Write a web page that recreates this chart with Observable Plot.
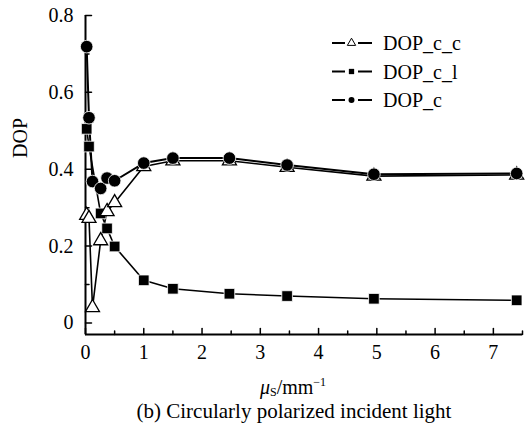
<!DOCTYPE html>
<html><head><meta charset="utf-8">
<script src="https://cdn.jsdelivr.net/npm/d3@7"></script>
<script src="https://cdn.jsdelivr.net/npm/@observablehq/plot@0.6"></script>
<style>
body{margin:0;background:#fff;font-family:"Liberation Serif","Times New Roman",serif;color:#000;}
#wrap{position:relative;width:525px;height:429px;overflow:hidden;}
#chart{position:absolute;left:0;top:0;}
#chart svg, #chart svg text{font-family:"Liberation Serif","Times New Roman",serif !important;}
#legend{position:absolute;left:0;top:0;}
.xlabel{position:absolute;left:193px;width:200px;top:370px;text-align:center;font-size:20px;line-height:24px;}
.xlabel sub{font-size:12px;vertical-align:-2px;}
.xlabel sup{font-size:12px;vertical-align:8px;}
.caption{position:absolute;left:44px;width:500px;top:399px;text-align:center;font-size:21px;line-height:25px;}
</style></head><body>
<div id="wrap">
  <div id="chart"></div>
  <svg id="legend" width="525" height="130"></svg>
  <div class="xlabel"><i>μ</i><sub>S</sub>/mm<sup>−1</sup></div>
  <div class="caption">(b) Circularly polarized incident light</div>
</div>
<script>
// ---- data ----
const xValues = [0.02, 0.06, 0.12, 0.26, 0.37, 0.5, 1.0, 1.5, 2.47, 3.46, 4.95, 7.4];
const dopCC   = [0.28, 0.272, 0.04, 0.214, 0.29, 0.313, 0.407, 0.422, 0.422, 0.405, 0.382, 0.385];
const dopCL   = [0.505, 0.459, null, 0.285, 0.246, 0.199, 0.111, 0.089, 0.076, 0.070, 0.063, 0.059];
const dopC    = [0.719, 0.534, 0.368, 0.350, 0.377, 0.370, 0.416, 0.429, 0.429, 0.411, 0.387, 0.389];
const seriesNames = ["DOP_c_c", "DOP_c_l", "DOP_c"];
const xTicks = [0, 1, 2, 3, 4, 5, 6, 7];
const xMinorTicks = [0.5, 1.5, 2.5, 3.5, 4.5, 5.5, 6.5, 7.5];
const yTicks = [0, 0.2, 0.4, 0.6, 0.8];
const yTickLabels = ["0", "0.2", "0.4", "0.6", "0.8"];
const yMinorTicks = [0.1, 0.3, 0.5, 0.7];
const xDomain = [0, 7.5];
const yDomain = [-0.03, 0.8];

// ---- build rows ----
function rows(vals, name) {
  return xValues.map((x, i) => ({x, y: vals[i], series: name})).filter(d => d.y != null);
}
const rCC = rows(dopCC, seriesNames[0]);
const rCL = rows(dopCL, seriesNames[1]);
const rC  = rows(dopC,  seriesNames[2]);

const tickShape = {draw(ctx, l) { ctx.moveTo(0, 0); ctx.lineTo(0, -l); }};
const yMin = yDomain[0];

const chart = Plot.plot({
  width: 525,
  height: 365,
  marginLeft: 85,
  marginRight: 3,
  marginTop: 15,
  marginBottom: 31,
  style: {fontFamily: "'Liberation Serif', 'Times New Roman', serif", fontSize: "20px", color: "#000", background: "#fff"},
  x: {domain: xDomain},
  y: {domain: yDomain},
  marks: [
    Plot.axisX({ticks: xTicks, tickSize: 0, tickPadding: 10, label: null, tickFormat: d => String(d)}),
    Plot.axisY({ticks: yTicks, tickSize: 0, tickPadding: 12, label: null, tickFormat: (d, i) => yTickLabels[yTicks.indexOf(d)]}),
    Plot.text(["DOP"], {frameAnchor: "left", text: d => d, rotate: -90, dx: -65, dy: -17, fontSize: 20}),
    Plot.ruleX([0], {stroke: "black", strokeWidth: 2}),
    Plot.ruleY([yMin], {stroke: "black", strokeWidth: 2}),
    Plot.vector(xTicks, {x: d => d, y: yMin, length: 6, rotate: 0, anchor: "start", shape: tickShape, stroke: "black", strokeWidth: 1.5}),
    Plot.vector(xMinorTicks, {x: d => d, y: yMin, length: 3.5, rotate: 0, anchor: "start", shape: tickShape, stroke: "black", strokeWidth: 1.5}),
    Plot.vector(yTicks, {x: 0, y: d => d, length: 6, rotate: 90, anchor: "start", shape: tickShape, stroke: "black", strokeWidth: 1.5}),
    Plot.vector(yMinorTicks, {x: 0, y: d => d, length: 3.5, rotate: 90, anchor: "start", shape: tickShape, stroke: "black", strokeWidth: 1.5}),
    Plot.line(rCL, {x: "x", y: "y", stroke: "black", strokeWidth: 1.6}),
    Plot.line(rCC, {x: "x", y: "y", stroke: "black", strokeWidth: 1.6}),
    Plot.line(rC,  {x: "x", y: "y", stroke: "black", strokeWidth: 2}),
    Plot.dot(rCL, {x: "x", y: "y", symbol: "square", r: 6, fill: "black", stroke: "white", strokeWidth: 0.8}),
    Plot.dot(rCC, {x: "x", y: "y", symbol: "triangle", r: 5.2, fill: "white", stroke: "black", strokeWidth: 1.3}),
    Plot.dot(rC,  {x: "x", y: "y", symbol: "circle", r: 6.3, fill: "black", stroke: "white", strokeWidth: 0.8})
  ]
});
document.getElementById("chart").appendChild(chart);

// ---- legend ----
const lg = d3.select("#legend");
const legendSymbols = [d3.symbolTriangle, d3.symbolSquare, d3.symbolCircle];
const legendFill = ["white", "black", "black"];
seriesNames.forEach((name, i) => {
  const g = lg.append("g").attr("transform", `translate(0,${43 + i * 28.5})`);
  g.append("line").attr("x1", 332).attr("x2", 345).attr("y1", 0).attr("y2", 0).attr("stroke", "black").attr("stroke-width", 2);
  g.append("line").attr("x1", 358).attr("x2", 372).attr("y1", 0).attr("y2", 0).attr("stroke", "black").attr("stroke-width", 2);
  g.append("path").attr("d", d3.symbol(legendSymbols[i], i === 0 ? 30 : 28)()).attr("transform", "translate(351.5,0)")
    .attr("fill", legendFill[i]).attr("stroke", "black").attr("stroke-width", i === 0 ? 1 : 0);
  g.append("text").attr("x", 383).attr("y", 7).attr("font-size", 20)
    .attr("font-family", "'Liberation Serif','Times New Roman',serif").text(name);
});
</script>
</body></html>
